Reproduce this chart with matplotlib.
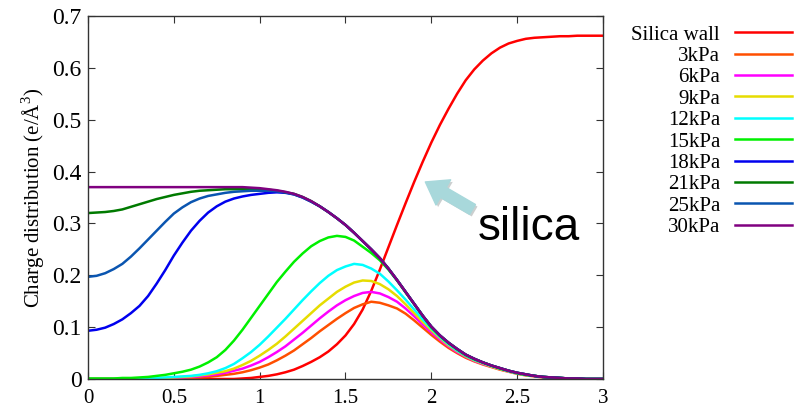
import numpy as np
import matplotlib
matplotlib.use("Agg")
import matplotlib.pyplot as plt
import matplotlib.patheffects as pe
from matplotlib.ticker import FuncFormatter

plt.rcParams['font.family'] = ['Liberation Serif', 'DejaVu Serif']
plt.rcParams['mathtext.fontset'] = 'custom'
plt.rcParams['mathtext.rm'] = 'Liberation Serif'

# distance grid 0 .. 3, step 0.05
x = np.linspace(0, 3, 61)

silica_wall = [0, 0, 0, 0, 0, 0, 0, 0, 0, 0,
               0, 0, 0, 0, 0, 0, 0, 0, 0.001, 0.002,
               0.004, 0.006, 0.009, 0.013, 0.018, 0.025, 0.033, 0.042, 0.053, 0.067,
               0.084, 0.106, 0.134, 0.170, 0.211, 0.254, 0.297, 0.339, 0.380, 0.419,
               0.456, 0.490, 0.521, 0.550, 0.576, 0.597, 0.614, 0.628, 0.639, 0.647,
               0.652, 0.656, 0.658, 0.659, 0.660, 0.661, 0.661, 0.662, 0.662, 0.662,
               0.662]
p3 = [0, 0, 0, 0, 0, 0, 0, 0, 0, 0,
      0.001, 0.001, 0.002, 0.003, 0.004, 0.006, 0.008, 0.010, 0.013, 0.017,
      0.022, 0.028, 0.036, 0.045, 0.055, 0.067, 0.079, 0.092, 0.104, 0.116,
      0.127, 0.137, 0.144, 0.149, 0.147, 0.142, 0.136, 0.126, 0.113, 0.099,
      0.085, 0.072, 0.060, 0.050, 0.041, 0.034, 0.028, 0.023, 0.018, 0.014,
      0.010, 0.007, 0.005, 0.003, 0.002, 0.001, 0.001, 0, 0, 0,
      0]
p6 = [0, 0, 0, 0, 0, 0, 0, 0, 0.001, 0.001,
      0.002, 0.003, 0.004, 0.005, 0.007, 0.009, 0.012, 0.016, 0.020, 0.026,
      0.033, 0.042, 0.052, 0.063, 0.076, 0.089, 0.103, 0.117, 0.130, 0.142,
      0.152, 0.160, 0.166, 0.168, 0.165, 0.158, 0.149, 0.136, 0.121, 0.105,
      0.090, 0.076, 0.063, 0.052, 0.043, 0.035, 0.029, 0.024, 0.019, 0.015,
      0.011, 0.008, 0.006, 0.004, 0.003, 0.002, 0.001, 0.001, 0, 0,
      0]
p9 = [0, 0, 0, 0, 0, 0, 0.001, 0.001, 0.001, 0.002,
      0.003, 0.004, 0.005, 0.007, 0.009, 0.012, 0.015, 0.020, 0.027, 0.035,
      0.045, 0.056, 0.068, 0.082, 0.097, 0.112, 0.127, 0.142, 0.155, 0.168,
      0.178, 0.186, 0.190, 0.189, 0.183, 0.173, 0.160, 0.144, 0.127, 0.110,
      0.094, 0.079, 0.065, 0.054, 0.044, 0.036, 0.030, 0.024, 0.019, 0.015,
      0.011, 0.008, 0.006, 0.004, 0.003, 0.002, 0.001, 0.001, 0, 0,
      0]
p12 = [0, 0, 0, 0, 0.001, 0.001, 0.001, 0.002, 0.002, 0.003,
       0.004, 0.005, 0.006, 0.008, 0.011, 0.015, 0.021, 0.029, 0.040, 0.052,
       0.066, 0.082, 0.099, 0.116, 0.134, 0.152, 0.169, 0.185, 0.199, 0.210,
       0.217, 0.222, 0.220, 0.213, 0.203, 0.188, 0.171, 0.153, 0.134, 0.115,
       0.097, 0.081, 0.067, 0.055, 0.045, 0.037, 0.031, 0.025, 0.020, 0.015,
       0.011, 0.008, 0.006, 0.004, 0.003, 0.002, 0.001, 0.001, 0, 0,
       0]
p15 = [0.001, 0.001, 0.001, 0.001, 0.002, 0.002, 0.003, 0.004, 0.006, 0.008,
       0.011, 0.014, 0.018, 0.024, 0.032, 0.042, 0.056, 0.074, 0.095, 0.118,
       0.141, 0.164, 0.187, 0.207, 0.226, 0.242, 0.256, 0.266, 0.273, 0.276,
       0.274, 0.267, 0.255, 0.243, 0.229, 0.211, 0.190, 0.167, 0.144, 0.121,
       0.099, 0.083, 0.069, 0.057, 0.046, 0.038, 0.032, 0.026, 0.020, 0.016,
       0.011, 0.008, 0.006, 0.004, 0.003, 0.002, 0.001, 0.001, 0, 0,
       0]
p18 = [0.093, 0.095, 0.099, 0.106, 0.115, 0.127, 0.141, 0.160, 0.184, 0.210,
       0.238, 0.263, 0.286, 0.305, 0.321, 0.333, 0.342, 0.348, 0.352, 0.355,
       0.357, 0.359, 0.360, 0.359, 0.356, 0.350, 0.342, 0.333, 0.322, 0.310,
       0.297, 0.282, 0.266, 0.250, 0.233, 0.213, 0.191, 0.168, 0.145, 0.122,
       0.101, 0.084, 0.070, 0.058, 0.047, 0.039, 0.032, 0.026, 0.021, 0.016,
       0.012, 0.009, 0.006, 0.004, 0.003, 0.002, 0.001, 0.001, 0, 0,
       0]
p21 = [0.320, 0.321, 0.322, 0.324, 0.327, 0.332, 0.337, 0.342, 0.347, 0.351,
       0.355, 0.358, 0.361, 0.363, 0.364, 0.365, 0.366, 0.366, 0.366, 0.366,
       0.366, 0.365, 0.363, 0.360, 0.357, 0.351, 0.343, 0.333, 0.322, 0.310,
       0.297, 0.282, 0.266, 0.250, 0.233, 0.213, 0.191, 0.168, 0.145, 0.122,
       0.101, 0.084, 0.070, 0.058, 0.047, 0.039, 0.032, 0.026, 0.021, 0.016,
       0.012, 0.009, 0.006, 0.004, 0.003, 0.002, 0.001, 0.001, 0, 0,
       0]
p25 = [0.197, 0.199, 0.204, 0.212, 0.222, 0.236, 0.252, 0.269, 0.286, 0.303,
       0.319, 0.331, 0.341, 0.348, 0.353, 0.356, 0.359, 0.361, 0.362, 0.363,
       0.363, 0.363, 0.362, 0.360, 0.356, 0.350, 0.342, 0.333, 0.322, 0.310,
       0.297, 0.282, 0.266, 0.250, 0.233, 0.213, 0.191, 0.168, 0.145, 0.122,
       0.101, 0.084, 0.070, 0.058, 0.047, 0.039, 0.032, 0.026, 0.021, 0.016,
       0.012, 0.009, 0.006, 0.004, 0.003, 0.002, 0.001, 0.001, 0, 0,
       0]
p30 = [0.370, 0.370, 0.370, 0.370, 0.370, 0.370, 0.370, 0.370, 0.370, 0.370,
       0.370, 0.370, 0.370, 0.370, 0.370, 0.370, 0.370, 0.370, 0.370, 0.369,
       0.368, 0.366, 0.364, 0.361, 0.357, 0.351, 0.343, 0.333, 0.322, 0.310,
       0.297, 0.282, 0.266, 0.250, 0.233, 0.213, 0.191, 0.168, 0.145, 0.122,
       0.101, 0.084, 0.070, 0.058, 0.047, 0.039, 0.032, 0.026, 0.021, 0.016,
       0.012, 0.009, 0.006, 0.004, 0.003, 0.002, 0.001, 0.001, 0, 0,
       0]

labels = ["Silica wall", "3kPa", "6kPa", "9kPa", "12kPa", "15kPa",
          "18kPa", "21kPa", "25kPa", "30kPa"]
series = [silica_wall, p3, p6, p9, p12, p15, p18, p21, p25, p30]
colors = ["#ff0000", "#ff4f00", "#ff00ff", "#e6dc00", "#00ffff", "#00f000",
          "#0000ee", "#007a00", "#0a55b0", "#800080"]

fig = plt.figure(figsize=(8.04, 4.12), dpi=100)
ax = fig.add_axes([88 / 804, 33 / 412, 515 / 804, 363 / 412])

for y, lab, c in zip(series, labels, colors):
    ax.plot(x, y, color=c, lw=1.8, label=lab, solid_joinstyle="round")

ax.set_xlim(0, 3)
ax.set_ylim(0, 0.7)
ax.set_xticks([0, 0.5, 1, 1.5, 2, 2.5, 3])
ax.set_yticks([0, 0.1, 0.2, 0.3, 0.4, 0.5, 0.6, 0.7])
fmt = FuncFormatter(lambda v, p: "%g" % v)
ax.xaxis.set_major_formatter(fmt)
ax.yaxis.set_major_formatter(fmt)
ax.tick_params(direction="in", top=True, right=True, length=5, width=0.8,
               color="#333333")
ax.tick_params(axis="x", pad=7, labelsize=15)
ax.tick_params(axis="y", pad=4.5, labelsize=17)
for s in ax.spines.values():
    s.set_color("#333333")
    s.set_linewidth(1.0)

ax.set_ylabel("Charge distribution (e/Å$^\\mathrm{3}$)", fontsize=15, labelpad=4)

# arrow + annotation
ax.annotate("", xy=(1.965, 0.380), xytext=(2.24, 0.327),
            arrowprops=dict(arrowstyle="simple,head_width=1.4,head_length=1.0,tail_width=0.55",
                            color="#a8d8db", mutation_scale=15, shrinkA=0, shrinkB=0,
                            path_effects=[pe.withSimplePatchShadow(offset=(1.5, -1.5),
                                                                   alpha=0.25)]))
ax.text(2.27, 0.268, "silica", fontsize=33, family="Liberation Sans",
        ha="left", va="baseline", color="black")

fig.legend(loc="upper right", bbox_to_anchor=(792 / 804, 1 - 25 / 412),
           frameon=False, markerfirst=False, fontsize=15, handlelength=2.75,
           handletextpad=0.7, labelspacing=0.087, borderpad=0, borderaxespad=0)

fig.savefig("out.png", dpi=100)
